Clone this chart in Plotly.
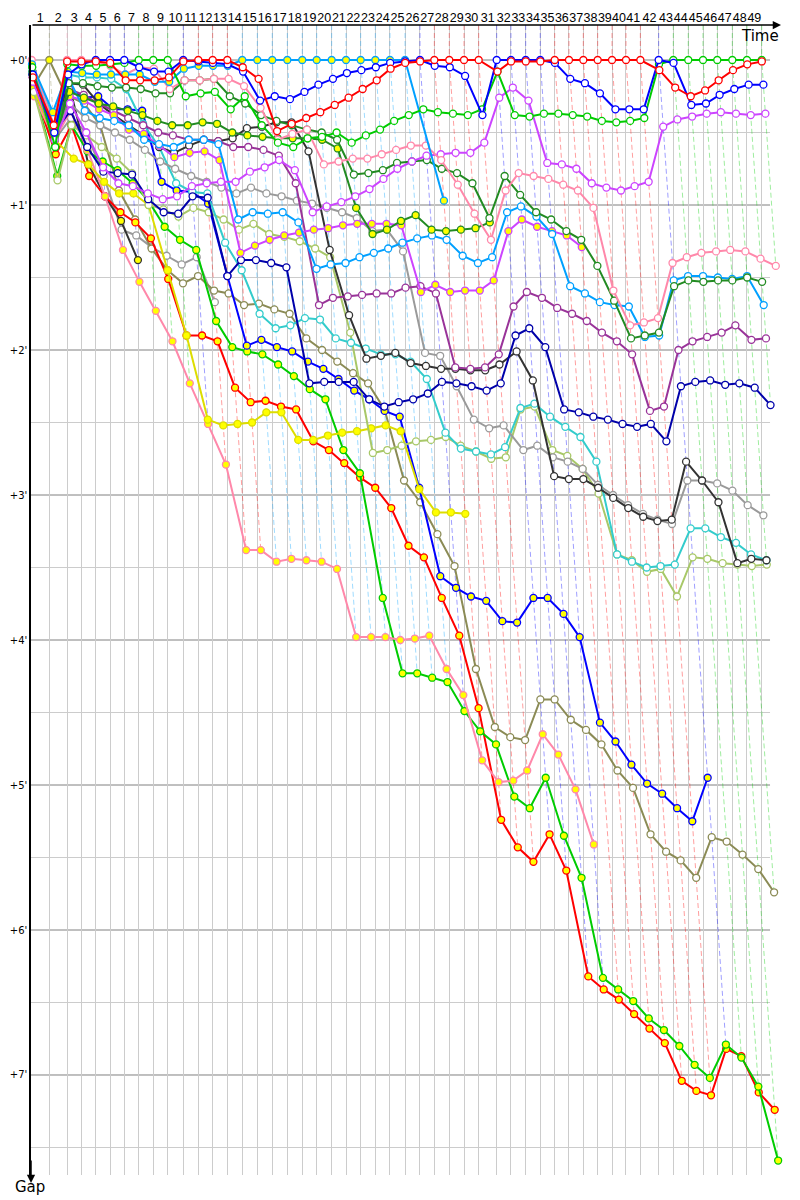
import plotly.graph_objects as go

# Leader's elapsed time (minutes) at each timing-line crossing, index 0 = start
leader_time = [0.07, 1.85, 3.64, 5.08, 6.54, 7.98, 9.42, 10.88, 12.35, 13.81,
               15.38, 16.90, 18.35, 19.83, 21.34, 22.86, 24.37, 25.89, 27.40, 28.86,
               30.37, 31.82, 33.30, 34.78, 36.26, 37.78, 39.29, 40.74, 42.25, 43.74,
               45.22, 47.04, 48.48, 49.97, 51.44, 52.90, 54.34, 55.79, 57.24, 58.69,
               60.10, 61.55, 63.40, 64.88, 66.39, 67.88, 69.32, 70.84, 72.32, 73.81]
lap_labels = [str(n) for n in range(1, 50)]
gap_minutes = [0, 1, 2, 3, 4, 5, 6, 7]
gap_labels = ["+0'", "+1'", "+2'", "+3'", "+4'", "+5'", "+6'", "+7'"]

# Gap to leader (minutes) per crossing
gap_red_a = [0.12, 0.45, 0.01, 0.01, 0.01, 0.02, 0.14, 0.14, 0.14, 0.12,
             0.01, 0.00, 0.00, 0.00, 0.05, 0.13, 0.49, 0.44, 0.40, 0.36,
             0.31, 0.26, 0.20, 0.14, 0.06, 0.02, 0.01, 0.00, 0.00, 0.00,
             0.00, 0.08, 0.01, 0.01, 0.01, 0.00, 0.00, 0.00, 0.00, 0.00,
             0.00, 0.00, 0.07, 0.19, 0.25, 0.21, 0.14, 0.07, 0.03, 0.01]
gap_blue_a = [0.10, 0.50, 0.10, 0.03, 0.00, 0.00, 0.00, 0.05, 0.08, 0.08,
              0.00, 0.01, 0.02, 0.03, 0.08, 0.28, 0.25, 0.27, 0.22, 0.17,
              0.13, 0.09, 0.07, 0.05, 0.02, 0.01, 0.00, 0.04, 0.05, 0.11,
              0.38, 0.00, 0.00, 0.00, 0.00, 0.02, 0.13, 0.16, 0.23, 0.34,
              0.34, 0.34, 0.00, 0.02, 0.31, 0.30, 0.24, 0.20, 0.17, 0.17]
gap_green_a = [0.05, 0.60, 0.03, 0.04, 0.04, 0.03, 0.02, 0.00, 0.00, 0.00,
               0.25, 0.23, 0.22, 0.34, 0.25, 0.45, 0.57, 0.60, 0.54, 0.53,
               0.50, 0.57, 0.52, 0.48, 0.42, 0.38, 0.34, 0.36, 0.37, 0.38,
               0.34, 0.08, 0.38, 0.39, 0.37, 0.37, 0.38, 0.39, 0.42, 0.43,
               0.42, 0.40, 0.03, 0.00, 0.00, 0.00, 0.00, 0.00, 0.00, 0.00]
gap_green_b = [0.20, 0.80, 0.45, 0.63, 0.70, 0.76, 0.85, 0.97, 1.15, 1.24,
               1.31, 1.80, 1.98, 2.01, 2.03, 2.10, 2.18, 2.27, 2.34, 2.69,
               2.85, 3.71, 4.23, 4.23, 4.26, 4.29, 4.49, 4.63, 4.72, 5.08,
               5.16, 4.95, 5.35, 5.64, 6.33, 6.41, 6.49, 6.61, 6.69, 6.80,
               6.93, 7.02, 6.79, 6.88, 7.08, 7.59]
gap_red_b = [0.20, 0.65, 0.45, 0.80, 0.94, 1.05, 1.12, 1.23, 1.51, 1.90,
             1.90, 1.94, 2.26, 2.36, 2.35, 2.39, 2.41, 2.63, 2.69, 2.78,
             2.88, 2.95, 3.09, 3.35, 3.43, 3.71, 3.97, 4.47, 5.24, 5.43,
             5.53, 5.34, 5.59, 6.32, 6.41, 6.48, 6.58, 6.68, 6.78, 7.04,
             7.11, 7.14, 6.82, 6.87, 7.12, 7.24]
gap_yellow = [0.20, 0.55, 0.68, 0.72, 0.84, 0.92, 0.92, 1.00, 1.45, 1.90,
              2.48, 2.52, 2.51, 2.50, 2.43, 2.43, 2.62, 2.62, 2.59, 2.57,
              2.56, 2.54, 2.52, 2.56, 2.96, 3.12, 3.12, 3.13]
gap_pink_b = [0.25, 0.55, 0.35, 0.62, 0.94, 1.31, 1.53, 1.73, 1.94, 2.23,
              2.51, 2.79, 3.38, 3.38, 3.46, 3.44, 3.45, 3.46, 3.51, 3.98,
              3.98, 3.98, 4.00, 3.99, 3.97, 4.20, 4.38, 4.83, 4.98, 4.97,
              4.90, 4.65, 4.79, 5.03, 5.41]
gap_sky_a = [0.03, 0.36, 0.08, 0.09, 0.10, 0.10, 0.10, 0.10, 0.15, 0.15,
             0.06, 0.04, 0.04, 0.04, 0.00, 0.00, 0.00, 0.00, 0.00, 0.00,
             0.00, 0.00, 0.00, 0.00, 0.00, 0.00, None, 0.97]
gap_sky_b = [0.08, 0.45, 0.12, 0.35, 0.40, 0.42, 0.45, 0.55, 0.58, 0.60,
             0.55, 0.55, 0.58, 1.10, 1.05, 1.06, 1.05, 1.12, 1.44, 1.41,
             1.40, 1.36, 1.33, 1.30, 1.26, 1.23, 1.21, 1.24, 1.35, 1.40,
             1.36, 1.05, 1.01, 1.08, 1.20, 1.56, 1.61, 1.67, 1.69, 1.70,
             1.91, 1.90, 1.52, 1.49, 1.49, 1.50, 1.51, 1.49, 1.69]
gap_turq = [0.05, 0.40, 0.10, 0.12, 0.12, 0.13, 0.20, 0.44, 0.60, 0.85,
            0.91, 0.92, 1.26, 1.45, 1.75, 1.85, 1.83, 1.78, 1.79, 1.92,
            1.95, 1.99, 2.03, 2.03, 2.08, 2.20, 2.57, 2.68, 2.70, 2.72,
            2.67, 2.40, 2.37, 2.46, 2.53, 2.60, 2.77, 3.41, 3.46, 3.50,
            3.49, 3.48, 3.23, 3.23, 3.29, 3.33, 3.41, 3.45]
gap_dark_a = [0.10, 0.45, 0.16, 0.17, 0.30, 0.38, 0.45, 0.52, 0.60, 0.64,
              0.59, 0.55, 0.56, 0.54, 0.47, 0.46, 0.43, 0.43, 0.63, 1.31,
              1.76, 2.06, 2.04, 2.02, 2.09, 2.11, 2.13, 2.13, 2.14, 2.14,
              2.10, 2.01, 2.21, 2.87, 2.89, 2.89, 2.95, 3.02, 3.09, 3.15,
              3.18, 3.17, 2.77, 2.90, 3.05, 3.47, 3.44, 3.45]
gap_dark_b = [0.15, 0.50, 0.15, 0.72, 0.94, 1.11, 1.38]
gap_gray_a = [0.10, 0.50, 0.30, 0.40, 0.45, 0.50, 0.55, 0.62, 0.70, 0.75,
              0.80, 0.84, 0.88, 0.92, 0.88, 0.92, 0.94, 0.97, 0.99, 1.02,
              1.05, 1.09, 1.18, 1.17, 1.32, 2.02, 2.04, 2.25, 2.48, 2.54,
              2.52, 2.69, 2.66, 2.74, 2.77, 2.82, 2.93, 3.00, 3.07, 3.13,
              3.17, 3.20, 2.90, 2.90, 2.92, 2.97, 3.07, 3.14]
gap_gray_b = [0.15, 0.55, 0.40, 0.50, 0.80, 1.17, 1.21, 1.29, 1.35, 1.41, 1.36, 1.67]
gap_olive_a = [0.20, 0.60, 0.25, 0.30, 0.45, 0.90, 1.10, 1.30, 1.45, 1.54,
               1.49, 1.59, 1.61, 1.69, 1.68, 1.72, 1.75, 1.92, 2.00, 2.08,
               2.16, 2.23, 2.41, 2.90, 3.05, 3.27, 3.49, 4.20, 4.60, 4.67,
               4.69, 4.41, 4.41, 4.55, 4.62, 4.72, 4.90, 5.02, 5.34, 5.46,
               5.52, 5.64, 5.36, 5.39, 5.48, 5.58, 5.74]
gap_olive_b = [0.18, 0.00, 0.30]
gap_violet_a = [0.15, 0.55, 0.30, 0.50, 0.74, 0.85, 0.87, 0.92, 0.96, 0.94,
                0.87, 0.85, 0.84, 0.84, 0.77, 0.74, 0.69, 0.76, 1.05, 1.01,
                0.98, 0.94, 0.89, 0.82, 0.75, 0.70, 0.66, 0.65, 0.64, 0.64,
                0.57, 0.26, 0.19, 0.28, 0.71, 0.72, 0.75, 0.85, 0.88, 0.90,
                0.87, 0.84, 0.46, 0.41, 0.39, 0.37, 0.36, 0.37, 0.38, 0.37]
gap_violet_b = [0.12, 0.50, 0.25, 0.28, 0.34, 0.38, 0.48, 0.51, 0.59, 0.67,
                0.64, 0.63, 0.69, 1.33, 1.28, 1.24, 1.21, 1.19, 1.17, 1.16,
                1.14, 1.13, 1.13, 1.13, 1.14, 1.60, 1.55, 1.60, 1.59, 1.59,
                1.52, 1.18, 1.10, 1.15, 1.18, 1.21, 1.29]
gap_purple = [0.12, 0.50, 0.20, 0.24, 0.30, 0.35, 0.40, 0.45, 0.50, 0.52,
              0.55, 0.55, 0.56, 0.60, 0.60, 0.62, 0.66, 0.85, 1.69, 1.64,
              1.63, 1.62, 1.61, 1.61, 1.57, 1.56, 1.61, 2.12, 2.13, 2.12,
              2.03, 1.70, 1.60, 1.64, 1.71, 1.75, 1.80, 1.88, 1.94, 2.03,
              2.42, 2.39, 2.00, 1.94, 1.91, 1.88, 1.83, 1.93, 1.92]
gap_forest_a = [0.08, 0.60, 0.16, 0.16, 0.18, 0.19, 0.19, 0.20, 0.23, 0.23,
                0.14, 0.14, 0.13, 0.25, 0.30, 0.38, 0.42, 0.45, 0.48, 0.50,
                0.55, 0.79, 0.78, 0.76, 0.71, 0.70, 0.69, 0.75, 0.78, 0.85,
                1.09, 0.80, 0.93, 1.05, 1.10, 1.18, 1.24, 1.42, 1.66, 1.92,
                1.90, 1.88, 1.56, 1.52, 1.53, 1.52, 1.52, 1.50, 1.53]
gap_forest_b = [0.10, 0.55, 0.22, 0.26, 0.30, 0.32, 0.35, 0.38, 0.42, 0.45,
                0.45, 0.43, 0.44, 0.50, 0.52, 0.53, 0.54, 0.54, 0.54, 0.55,
                0.61, 1.02, 1.20, 1.17, 1.11, 1.07, 1.17, 1.18, 1.17, 1.16,
                1.12]
gap_lime = [0.22, 0.83, 0.45, 0.52, 0.60, 0.68, 0.78, 1.00, 1.03, 1.08,
            1.02, 1.05, 1.10, 1.17, 1.13, 1.20, 1.22, 1.25, 1.30, 1.36,
            1.88, 2.71, 2.69, 2.66, 2.63, 2.62, 2.60, 2.66, 2.70, 2.75,
            2.74, 2.41, 2.39, 2.69, 2.73, 2.82, 2.99, 3.41, 3.45, 3.53,
            3.51, 3.70, 3.43, 3.44, 3.47, 3.48, 3.49, 3.48]
gap_blue_b = [0.12, 0.50, 0.20, 0.26, 0.25, 0.34, 0.34, 0.35, 0.84, 0.90,
              0.91, 0.99, 1.49, 1.97, 1.93, 1.98, 2.01, 2.08, 2.13, 2.20,
              2.28, 2.34, 2.42, 2.46, 2.95, 3.56, 3.64, 3.70, 3.73, 3.87,
              3.88, 3.71, 3.71, 3.82, 3.98, 4.57, 4.70, 4.86, 4.99, 5.06,
              5.16, 5.25, 4.95]
gap_navy = [0.10, 0.50, 0.35, 0.60, 0.77, 0.78, 0.79, 0.96, 1.05, 1.06,
            0.94, 0.95, 1.49, 1.38, 1.38, 1.40, 1.43, 2.23, 2.22, 2.22,
            2.22, 2.34, 2.39, 2.36, 2.34, 2.30, 2.22, 2.23, 2.25, 2.28,
            2.23, 1.90, 1.85, 1.98, 2.41, 2.43, 2.46, 2.48, 2.51, 2.53,
            2.51, 2.63, 2.25, 2.22, 2.21, 2.24, 2.23, 2.26, 2.38]
gap_pink_a = [0.00, 0.45, 0.00, 0.00, 0.01, 0.04, 0.10, 0.05, 0.06, 0.20,
              0.14, 0.14, 0.13, 0.13, 0.18, 0.33, 0.55, 0.51, 0.48, 0.72,
              0.70, 0.68, 0.68, 0.65, 0.62, 0.59, 0.59, 0.69, 0.86, 1.06,
              1.24, 0.90, 0.78, 0.80, 0.82, 0.86, 0.90, 1.02, 1.59, 1.83,
              1.81, 1.78, 1.40, 1.36, 1.33, 1.32, 1.31, 1.32, 1.37, 1.42]

# (series, line colour, marker fill) -- drawing order
drivers = [
    (gap_olive_b, "#8B8B55", "#FFFF00"),
    (gap_gray_b, "#9A9A9A", "#FFFFFF"),
    (gap_dark_b, "#333333", "#FFFF00"),
    (gap_olive_a, "#8B8B55", "#FFFFFF"),
    (gap_red_b, "#FF0000", "#FFFF00"),
    (gap_green_b, "#00CC00", "#FFFF00"),
    (gap_pink_b, "#FF88AA", "#FFFF00"),
    (gap_blue_b, "#0000FF", "#FFFF00"),
    (gap_yellow, "#DDDD00", "#FFFF00"),
    (gap_lime, "#A8C868", "#FFFFFF"),
    (gap_turq, "#33CCCC", "#FFFFFF"),
    (gap_gray_a, "#9A9A9A", "#FFFFFF"),
    (gap_dark_a, "#333333", "#FFFFFF"),
    (gap_navy, "#0000AA", "#FFFFFF"),
    (gap_purple, "#993399", "#FFFFFF"),
    (gap_violet_b, "#CC44FF", "#FFFF00"),
    (gap_sky_b, "#00A0FF", "#FFFFFF"),
    (gap_forest_b, "#228B22", "#FFFF00"),
    (gap_forest_a, "#228B22", "#FFFFFF"),
    (gap_violet_a, "#CC44FF", "#FFFFFF"),
    (gap_pink_a, "#FF88AA", "#FFFFFF"),
    (gap_sky_a, "#00A0FF", "#FFFF00"),
    (gap_green_a, "#00CC00", "#FFFFFF"),
    (gap_blue_a, "#0000FF", "#FFFFFF"),
    (gap_red_a, "#FF0000", "#FFFFFF"),
]


def rgba(hexcol, a):
    h = hexcol.lstrip("#")
    return "rgba(%d,%d,%d,%.2f)" % (int(h[0:2], 16), int(h[2:4], 16), int(h[4:6], 16), a)


# scale: 9.9 px per minute horizontally, 145 px per minute vertically
PX_PER_MIN_X = 9.9
Y_TOP = -0.2414
Y_BOTTOM = 7.6897
GRID_X_END = 74.65  # horizontal grid lines stop here (minutes)

# the page body has an 8px default margin: size the figure so the plot lands where intended
OFF = 8
FIG_W, FIG_H = 792, 1192
M_L, M_T, M_R, M_B = 23, 17, 8, 25
PLOT_W = FIG_W - M_L - M_R
PLOT_H = FIG_H - M_T - M_B
X_MAX = PLOT_W / PX_PER_MIN_X


def px_x(px):
    return (px - OFF - M_L) / PLOT_W


def px_y(py):
    return 1 - (py - OFF - M_T) / PLOT_H


fig = go.Figure()

# horizontal grid: minutes (dark) and half minutes (light)
for m in gap_minutes:
    fig.add_shape(type="line", xref="x", yref="y", x0=0, x1=GRID_X_END, y0=m + 0.5, y1=m + 0.5,
                  line=dict(color="#CCCCCC", width=1), layer="below")
for m in gap_minutes:
    fig.add_shape(type="line", xref="x", yref="y", x0=0, x1=GRID_X_END, y0=m, y1=m,
                  line=dict(color="#808080", width=1), layer="below")

# leader lap lines: from the leader's crossing down to the last car on that lap
for i in range(1, len(leader_time)):
    vals = [(s[i], col) for s, col, _ in drivers if i < len(s) and s[i] is not None]
    lead_col = min(vals, key=lambda v: v[0])[1]
    gmax = max(v[0] for v in vals)
    t = leader_time[i]
    fig.add_trace(go.Scatter(
        x=[t, t, t + gmax], y=[Y_TOP, 0, gmax], mode="lines",
        line=dict(color=rgba(lead_col, 0.38), width=1, dash="5px,3px"),
        hoverinfo="skip", showlegend=False))

for s, col, fill in drivers:
    xs, ys = [], []
    for i, g in enumerate(s):
        if g is None:
            continue
        xs.append(leader_time[i] + g)
        ys.append(g)
    fig.add_trace(go.Scatter(
        x=xs, y=ys, mode="lines+markers",
        line=dict(color=col, width=2),
        marker=dict(symbol="circle", size=7, color=fill, line=dict(color=col, width=1.3)),
        showlegend=False, hoverinfo="skip", cliponaxis=False))

mids = [(leader_time[n - 1] + leader_time[n]) / 2 for n in range(1, len(leader_time))]
mids[0] = (0 + leader_time[1]) / 2

fig.update_layout(
    width=FIG_W, height=FIG_H,
    margin=dict(l=M_L, r=M_R, t=M_T, b=M_B, autoexpand=False),
    paper_bgcolor="white", plot_bgcolor="white",
    showlegend=False,
    xaxis=dict(
        range=[0, X_MAX], side="top", automargin=False, tickangle=0,
        tickmode="array", tickvals=mids, ticktext=lap_labels,
        ticks="", showgrid=False, zeroline=False, showline=False,
        tickfont=dict(family="Liberation Sans", size=12.5, color="black"),
        minor=dict(tickmode="array", tickvals=leader_time, showgrid=True,
                   gridcolor="#CCCCCC", gridwidth=1, ticks=""),
    ),
    yaxis=dict(
        range=[Y_BOTTOM, Y_TOP], automargin=False,
        tickmode="array", tickvals=gap_minutes, ticktext=gap_labels,
        ticks="", showgrid=False, zeroline=False,
        tickfont=dict(family="DejaVu Sans", size=10, color="black"),
        showline=True, linecolor="black", linewidth=1.5,
    ),
)

# axis lines with arrows and titles
fig.add_annotation(xref="paper", yref="paper", x=px_x(781), y=px_y(25), ax=-(781 - 31), ay=0,
                   axref="pixel", ayref="pixel", text="", showarrow=True,
                   arrowhead=2, arrowsize=1.1, arrowwidth=1.5, arrowcolor="black")
fig.add_annotation(xref="paper", yref="paper", x=px_x(31), y=px_y(1183), ax=0, ay=-24,
                   axref="pixel", ayref="pixel", text="", showarrow=True,
                   arrowhead=2, arrowsize=1.1, arrowwidth=1.5, arrowcolor="black")
fig.add_annotation(xref="paper", yref="paper", x=px_x(760), y=px_y(36),
                   xanchor="center", yanchor="middle",
                   text="Time", showarrow=False, font=dict(family="DejaVu Sans", size=15, color="black"))
fig.add_annotation(xref="paper", yref="paper", x=px_x(30), y=px_y(1187),
                   xanchor="center", yanchor="middle",
                   text="Gap", showarrow=False, font=dict(family="DejaVu Sans", size=15, color="black"))

fig.write_html("out.html")
